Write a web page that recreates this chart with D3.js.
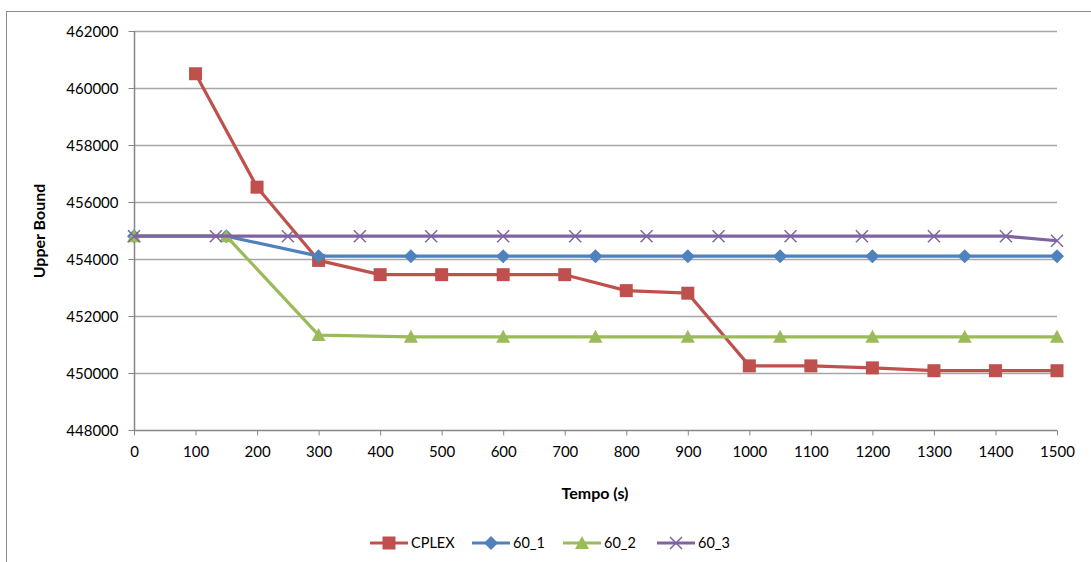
<!DOCTYPE html>
<html>
<head>
<meta charset="utf-8">
<script src="https://cdn.jsdelivr.net/npm/d3@7"></script>
<style>
  html, body { margin: 0; padding: 0; background: #fff; }
  svg { display: block; font-family: Lato, "Open Sans", "Liberation Sans", sans-serif; }
</style>
</head>
<body>
<svg id="chart" width="1091" height="562"></svg>
<script>
// Upper bound over time for CPLEX and three heuristic runs
const xTicks = [0, 100, 200, 300, 400, 500, 600, 700, 800, 900, 1000, 1100, 1200, 1300, 1400, 1500];
const yTicks = [448000, 450000, 452000, 454000, 456000, 458000, 460000, 462000];

const cplexTime  = [100, 200, 300, 400, 500, 600, 700, 800, 900, 1000, 1100, 1200, 1300, 1400, 1500];
const cplexValue = [460500, 456520, 453950, 453450, 453450, 453450, 453450, 452890, 452800, 450250, 450250, 450180, 450080, 450080, 450080];

const run1Time  = [0, 150, 300, 450, 600, 750, 900, 1050, 1200, 1350, 1500];
const run1Value = [454800, 454800, 454100, 454100, 454100, 454100, 454100, 454100, 454100, 454100, 454100];

const run2Time  = [0, 150, 300, 450, 600, 750, 900, 1050, 1200, 1350, 1500];
const run2Value = [454800, 454800, 451330, 451270, 451270, 451270, 451270, 451270, 451270, 451270, 451270];

const run3Time  = [0, 133, 250, 367, 483, 600, 717, 833, 950, 1067, 1183, 1300, 1417, 1500];
const run3Value = [454800, 454800, 454800, 454800, 454800, 454800, 454800, 454800, 454800, 454800, 454800, 454800, 454800, 454640];

const seriesNames = ["CPLEX", "60_1", "60_2", "60_3"];
const seriesColors = ["#C0504D", "#4F81BD", "#9BBB59", "#8064A2"];
const seriesShapes = ["square", "diamond", "triangle", "cross"];

const series = [
  { time: cplexTime, value: cplexValue },
  { time: run1Time, value: run1Value },
  { time: run2Time, value: run2Value },
  { time: run3Time, value: run3Value }
].map((s, i) => ({
  name: seriesNames[i], color: seriesColors[i], shape: seriesShapes[i],
  points: s.time.map((t, j) => ({ t, v: s.value[j] }))
}));

const svg = d3.select("#chart");
const plot = { left: 134, right: 1057, top: 31, bottom: 430 };

const x = d3.scaleLinear().domain([0, 1500]).range([plot.left, plot.right]);
const y = d3.scaleLinear().domain([448000, 462000]).range([plot.bottom, plot.top]);

// Chart frame
svg.append("rect")
  .attr("x", 6.5).attr("y", 11.5)
  .attr("width", 1200).attr("height", 700)
  .attr("fill", "none").attr("stroke", "#8c8c8c").attr("stroke-width", 1);

// Horizontal gridlines
svg.append("g")
  .selectAll("line")
  .data(yTicks.filter(d => d !== 448000))
  .join("line")
  .attr("x1", plot.left).attr("x2", plot.right)
  .attr("y1", d => Math.round(y(d)) + 0.5).attr("y2", d => Math.round(y(d)) + 0.5)
  .attr("stroke", "#a6a6a6").attr("stroke-width", 1.3);

// Axes
const yAxis = d3.axisLeft(y).tickValues(yTicks).tickSize(6).tickPadding(10).tickFormat(d3.format("d"));
const xAxis = d3.axisBottom(x).tickValues(xTicks).tickSize(5).tickPadding(11).tickFormat(d3.format("d"));

const gy = svg.append("g").attr("transform", `translate(${plot.left + 0.5},0)`).call(yAxis);
const gx = svg.append("g").attr("transform", `translate(0,${plot.bottom + 0.5})`).call(xAxis);

[gx, gy].forEach(g => {
  g.select(".domain").attr("stroke", "#868686").attr("stroke-width", 1.5);
  g.selectAll(".tick line").attr("stroke", "#868686").attr("stroke-width", 1);
  g.selectAll(".tick text")
    .attr("fill", "#000")
    .style("font-family", "Lato, 'Open Sans', sans-serif")
    .style("font-size", "15px");
});
gy.select(".domain").attr("d", `M0,${plot.top}V${plot.bottom}`);
gx.select(".domain").attr("d", `M${plot.left},0H${plot.right}`);
gy.selectAll(".tick text").attr("dy", "0.35em");

// Axis titles
svg.append("text")
  .attr("x", 595).attr("y", 499)
  .attr("text-anchor", "middle")
  .style("font-size", "16px").style("font-weight", "bold")
  .text("Tempo (s)");

svg.append("text")
  .attr("transform", "translate(45,231) rotate(-90)")
  .attr("text-anchor", "middle")
  .style("font-size", "16px").style("font-weight", "bold")
  .text("Upper Bound");

// Marker drawing
function drawMarker(sel, shape, color) {
  if (shape === "square") {
    sel.append("rect").attr("x", -6.5).attr("y", -6.5).attr("width", 13).attr("height", 13).attr("fill", color);
  } else if (shape === "diamond") {
    sel.append("path").attr("d", "M0,-7L7,0L0,7L-7,0Z").attr("fill", color);
  } else if (shape === "triangle") {
    sel.append("path").attr("d", "M0,-7L7,6L-7,6Z").attr("fill", color);
  } else {
    sel.append("path").attr("d", "M-6,-6L6,6M-6,6L6,-6").attr("stroke", color).attr("stroke-width", 1.5).attr("fill", "none");
  }
}

const line = d3.line().x(d => x(d.t)).y(d => y(d.v));

// Series lines and markers (purple drawn last, on top)
series.forEach(s => {
  const g = svg.append("g");
  g.append("path")
    .datum(s.points)
    .attr("d", line)
    .attr("fill", "none")
    .attr("stroke", s.color)
    .attr("stroke-width", 3.2)
    .attr("stroke-linejoin", "round");
  g.selectAll("g.mk")
    .data(s.points)
    .join("g")
    .attr("class", "mk")
    .attr("transform", d => `translate(${x(d.t)},${y(d.v)})`)
    .each(function () { drawMarker(d3.select(this), s.shape, s.color); });
});

// Legend
const legendPos = [370, 472, 563, 657];
const legend = svg.append("g");
series.forEach((s, i) => {
  const lg = legend.append("g").attr("transform", `translate(${legendPos[i]},543)`);
  lg.append("line").attr("x1", 0).attr("x2", 38).attr("y1", 0).attr("y2", 0)
    .attr("stroke", s.color).attr("stroke-width", 3.2);
  const m = lg.append("g").attr("transform", "translate(19,0)");
  drawMarker(m, s.shape, s.color);
  lg.append("text").attr("x", 41).attr("y", 0).attr("dy", "0.35em")
    .style("font-size", "14.5px").text(s.name);
});
</script>
</body>
</html>
